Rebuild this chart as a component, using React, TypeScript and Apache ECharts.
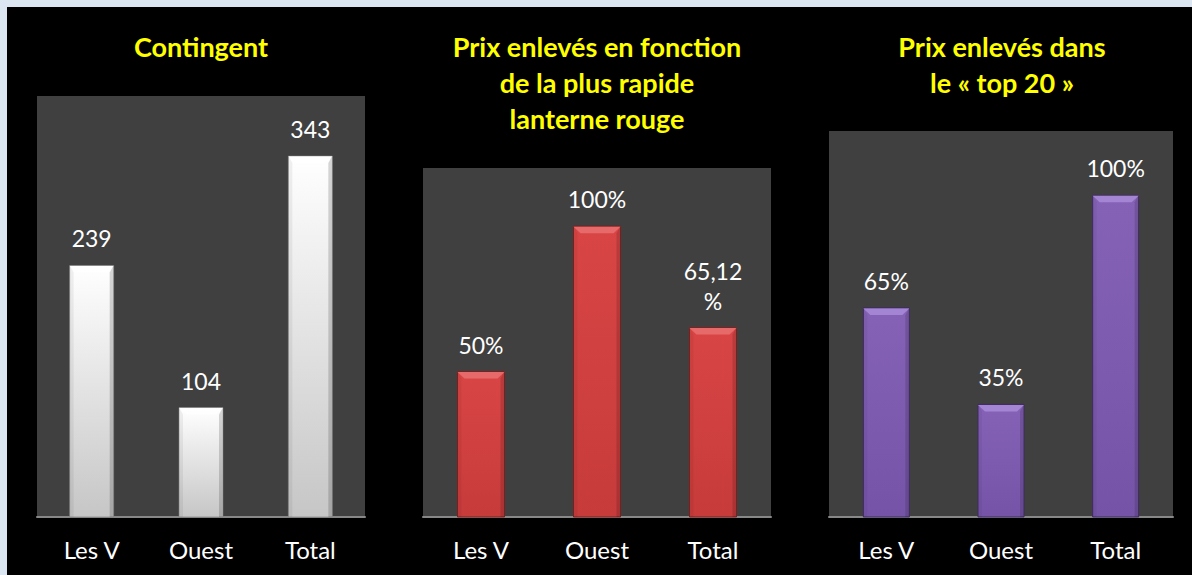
import React, { useEffect, useRef } from "react";
import * as echarts from "echarts";

const categories = ["Les V", "Ouest", "Total"];
const titles = ["Contingent", "Prix enlevés en fonction\nde la plus rapide\nlanterne rouge", "Prix enlevés dans\nle « top 20 »"];
const contingentValues = [239, 104, 343];
const contingentLabels = ["239", "104", "343"];
const lanterneValues = [0.5, 1.0, 0.6512];
const lanterneLabels = ["50%", "100%", "65,12\n%"];
const top20Values = [0.65, 0.35, 1.0];
const top20Labels = ["65%", "35%", "100%"];
const axisMax = [400, 1.2, 1.2];

const FONT = "Lato, 'Open Sans', sans-serif";

type Palette = { top: string; bottom: string; bevel: string; left: string; right: string; edge: string };
const palettes: Palette[] = [
  { top: "#ffffff", bottom: "#c6c6c6", bevel: "rgba(255,255,255,0.6)", left: "rgba(0,0,0,0.06)", right: "rgba(0,0,0,0.16)", edge: "rgba(120,120,120,0.6)" },
  { top: "#d94545", bottom: "#c73b3b", bevel: "#e66a6a", left: "rgba(0,0,0,0.05)", right: "rgba(0,0,0,0.14)", edge: "#7a1f1f" },
  { top: "#8562b6", bottom: "#7554a8", bevel: "#a385d4", left: "rgba(0,0,0,0.05)", right: "rgba(0,0,0,0.14)", edge: "#3e2a5e" },
];

function makeRender(labels: string[], pal: Palette, barW: number) {
  return (params: any, api: any) => {
    const idx = api.value(0);
    const val = api.value(1);
    const top = api.coord([idx, val]);
    const base = api.coord([idx, 0]);
    const cx = top[0];
    const x0 = cx - barW / 2;
    const x1 = cx + barW / 2;
    const y0 = top[1];
    const yb = base[1];
    const b = 7;
    const s = 4;
    return {
      type: "group",
      children: [
        {
          type: "rect",
          shape: { x: x0, y: y0, width: barW, height: yb - y0 },
          style: {
            fill: new echarts.graphic.LinearGradient(0, 0, 0, 1, [
              { offset: 0, color: pal.top },
              { offset: 1, color: pal.bottom },
            ]),
            stroke: pal.edge,
            lineWidth: 1,
          },
        },
        {
          type: "polygon",
          shape: { points: [[x0, y0 + 0.5], [x1, y0 + 0.5], [x1 - b, y0 + b], [x0 + b, y0 + b]] },
          style: { fill: pal.bevel },
        },
        {
          type: "polygon",
          shape: { points: [[x0 + 0.5, y0 + 0.5], [x0 + s, y0 + b], [x0 + s, yb], [x0 + 0.5, yb]] },
          style: { fill: pal.left },
        },
        {
          type: "polygon",
          shape: { points: [[x1 - 0.5, y0 + 0.5], [x1 - s, y0 + b], [x1 - s, yb], [x1 - 0.5, yb]] },
          style: { fill: pal.right },
        },
        {
          type: "text",
          style: {
            x: cx,
            y: y0 - 12,
            text: labels[idx],
            fill: "#ffffff",
            fontFamily: FONT,
            fontSize: 23,
            lineHeight: 30,
            align: "center",
            verticalAlign: "bottom",
          },
        },
      ],
    };
  };
}

export default function App() {
  const ref = useRef<HTMLDivElement>(null);
  useEffect(() => {
    document.body.style.margin = "0";
    const chart = echarts.init(ref.current!, null, { renderer: "svg" });
    const grids = [
      { left: 30, top: 89, width: 328, height: 421 },
      { left: 416, top: 161, width: 348, height: 349 },
      { left: 822, top: 124, width: 344, height: 386 },
    ];
    const barWidths = [44, 47, 46];
    const values = [contingentValues, lanterneValues, top20Values];
    const labels = [contingentLabels, lanterneLabels, top20Labels];
    const titleX = [194, 590, 995];
    chart.setOption({
      animation: false,
      backgroundColor: "#000000",
      title: titles.map((t, i) => ({
        text: t,
        left: titleX[i],
        top: 21,
        padding: 0,
        textAlign: "center",
        textStyle: {
          color: "#ffff00",
          fontWeight: "bold",
          fontSize: 27,
          lineHeight: 36,
          fontFamily: FONT,
        },
      })),
      grid: grids.map((g) => ({
        ...g,
        show: true,
        backgroundColor: "#404040",
        borderWidth: 0,
      })),
      xAxis: grids.map((_, i) => ({
        type: "category",
        gridIndex: i,
        data: categories,
        axisLine: { show: true, lineStyle: { color: "#888888", width: 2 } },
        axisTick: { show: false },
        axisLabel: { color: "#ffffff", fontSize: 24, margin: 20, fontFamily: FONT },
        splitLine: { show: false },
      })),
      yAxis: grids.map((_, i) => ({
        type: "value",
        gridIndex: i,
        min: 0,
        max: axisMax[i],
        show: false,
        splitLine: { show: false },
      })),
      series: values.map((v, i) => ({
        type: "custom",
        xAxisIndex: i,
        yAxisIndex: i,
        data: v.map((y, k) => [k, y]),
        encode: { x: 0, y: 1 },
        renderItem: makeRender(labels[i], palettes[i], barWidths[i]),
        z: 2,
      })),
    });
    return () => chart.dispose();
  }, []);
  return (
    <div style={{ width: 1192, height: 575, background: "#dce6f2", paddingLeft: 7, paddingTop: 7, boxSizing: "border-box" }}>
      <div ref={ref} style={{ width: 1185, height: 568 }} />
    </div>
  );
}
